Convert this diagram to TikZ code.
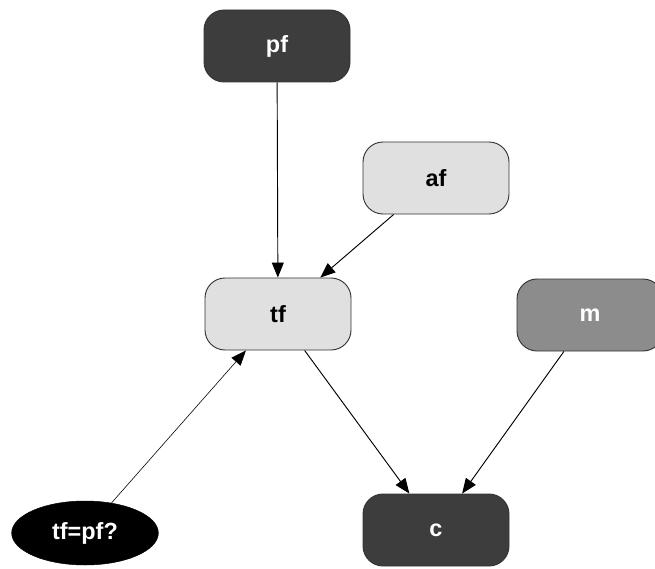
\documentclass[tikz,border=0pt]{standalone}
\usepackage{fontspec}
\setmainfont{Liberation Sans}
\usetikzlibrary{arrows.meta,shapes.geometric}

\begin{document}
\begin{tikzpicture}[x=0.03cm,y=-0.03cm,
  box/.style={
    draw=black!80,
    line width=0.8pt,
    rounded corners=0.6cm,
    minimum width=4.38cm,
    minimum height=2.16cm,
    font=\fontsize{20}{24}\selectfont\bfseries,
  },
  dark box/.style={box,fill=black!76,text=white},
  light box/.style={box,fill=black!12},
  mid box/.style={box,fill=black!45,text=white},
  test/.style={ellipse,fill=black,draw=black,inner sep=0pt,
    minimum width=4.4cm,minimum height=1.92cm,text=white,
    font=\fontsize{20}{24}\selectfont\bfseries},
  edge/.style={-{Triangle[length=0.45cm,width=0.36cm]},line width=0.8pt},
  ]
  \clip (0,0) rectangle (655,568);
  \node[dark box] (pf) at (277,46) {pf};
  \node[light box] (af) at (436,178) {af};
  \node[light box] (tf) at (278,314) {tf};
  \node[mid box] (m) at (590,315) {m};
  \node[test] (eq) at (85,533) {tf=pf?};
  \node[dark box] (c) at (436,530) {c};
  \draw[edge] (pf) -- (tf);
  \draw[edge] (af) -- (tf);
  \draw[edge,line width=0.5pt] (eq) -- (tf);
  \draw[edge] (tf) -- (c);
  \draw[edge] (m) -- (c);
\end{tikzpicture}
\end{document}
